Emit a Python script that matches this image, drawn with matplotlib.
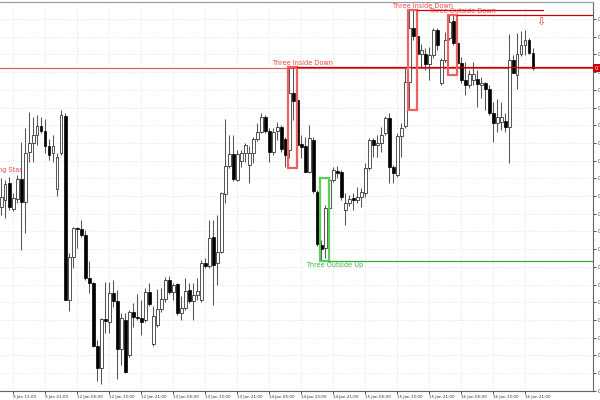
import numpy as np
import matplotlib
matplotlib.use("Agg")
import matplotlib.pyplot as plt
import matplotlib.transforms as mtransforms

# hourly bars, 9 Jan 10:00 .. 16 Jan 23:00
opens = [0.7793, 0.7800, 0.7817, 0.7791, 0.7801, 0.7821, 0.7798, 0.7848, 0.7857, 0.7865,
         0.7874, 0.7869, 0.7854, 0.7847, 0.7811, 0.7847, 0.7884, 0.7700, 0.7743, 0.7772,
         0.7771, 0.7765, 0.7722, 0.7717, 0.7654, 0.7632, 0.7681, 0.7678, 0.7707, 0.7699,
         0.7651, 0.7680, 0.7645, 0.7688, 0.7683, 0.7682, 0.7680, 0.7708, 0.7656, 0.7675,
         0.7691, 0.7701, 0.7720, 0.7708, 0.7716, 0.7687, 0.7692, 0.7710, 0.7699, 0.7705,
         0.7700, 0.7737, 0.7734, 0.7763, 0.7737, 0.7748, 0.7806, 0.7834, 0.7846, 0.7820,
         0.7839, 0.7847, 0.7835, 0.7847, 0.7861, 0.7868, 0.7883, 0.7869, 0.7848, 0.7869,
         0.7873, 0.7861, 0.7850, 0.7907, 0.7900, 0.7856, 0.7854, 0.7828, 0.7860, 0.7808,
         0.7755, 0.7752, 0.7792, 0.7820, 0.7829, 0.7828, 0.7790, 0.7797, 0.7802, 0.7800,
         0.7803, 0.7807, 0.7832, 0.7860, 0.7855, 0.7857, 0.7867, 0.7882, 0.7833, 0.7825,
         0.7864, 0.7874, 0.7918, 0.7972, 0.7964, 0.7946, 0.7946, 0.7936, 0.7945, 0.7970,
         0.7917, 0.7940, 0.7962, 0.7979, 0.7957, 0.7937, 0.7920, 0.7915, 0.7920, 0.7921,
         0.7915, 0.7917, 0.7911, 0.7887, 0.7877, 0.7878, 0.7879, 0.7873, 0.7940, 0.7925,
         0.7946, 0.7955, 0.7960, 0.7947]
highs = [0.7822, 0.7820, 0.7823, 0.7807, 0.7825, 0.7858, 0.7872, 0.7888, 0.7883, 0.7885,
         0.7883, 0.7881, 0.7861, 0.7865, 0.7847, 0.7890, 0.7887, 0.7747, 0.7773, 0.7773,
         0.7780, 0.7770, 0.7739, 0.7718, 0.7660, 0.7682, 0.7718, 0.7718, 0.7720, 0.7710,
         0.7687, 0.7687, 0.7690, 0.7697, 0.7706, 0.7700, 0.7712, 0.7717, 0.7694, 0.7711,
         0.7712, 0.7723, 0.7724, 0.7717, 0.7717, 0.7704, 0.7722, 0.7717, 0.7717, 0.7722,
         0.7740, 0.7742, 0.7780, 0.7780, 0.7785, 0.7808, 0.7881, 0.7865, 0.7865, 0.7850,
         0.7850, 0.7857, 0.7854, 0.7863, 0.7877, 0.7887, 0.7885, 0.7872, 0.7872, 0.7878,
         0.7875, 0.7863, 0.7933, 0.7933, 0.7904, 0.7865, 0.7863, 0.7875, 0.7863, 0.7810,
         0.7760, 0.7795, 0.7822, 0.7833, 0.7834, 0.7830, 0.7807, 0.7805, 0.7807, 0.7813,
         0.7812, 0.7837, 0.7862, 0.7862, 0.7865, 0.7873, 0.7884, 0.7887, 0.7835, 0.7867,
         0.7877, 0.7932, 0.7990, 0.7990, 0.7970, 0.7956, 0.7952, 0.7953, 0.7972, 0.7972,
         0.7942, 0.7968, 0.7985, 0.7985, 0.7960, 0.7943, 0.7938, 0.7930, 0.7938, 0.7930,
         0.7923, 0.7918, 0.7915, 0.7898, 0.7901, 0.7898, 0.7887, 0.7966, 0.7945, 0.7967,
         0.7969, 0.7970, 0.7962, 0.7952]
lows = [0.7785, 0.7782, 0.7790, 0.7789, 0.7797, 0.7750, 0.7767, 0.7838, 0.7838, 0.7855,
        0.7867, 0.7847, 0.7840, 0.7838, 0.7804, 0.7845, 0.7700, 0.7689, 0.7732, 0.7752,
        0.7763, 0.7720, 0.7707, 0.7653, 0.7619, 0.7616, 0.7667, 0.7667, 0.7693, 0.7621,
        0.7635, 0.7627, 0.7643, 0.7673, 0.7680, 0.7665, 0.7678, 0.7694, 0.7654, 0.7673,
        0.7688, 0.7698, 0.7706, 0.7700, 0.7685, 0.7680, 0.7690, 0.7697, 0.7680, 0.7700,
        0.7698, 0.7732, 0.7732, 0.7695, 0.7715, 0.7747, 0.7797, 0.7832, 0.7819, 0.7819,
        0.7833, 0.7838, 0.7817, 0.7837, 0.7859, 0.7867, 0.7867, 0.7838, 0.7845, 0.7860,
        0.7848, 0.7833, 0.7842, 0.7880, 0.7832, 0.7842, 0.7828, 0.7827, 0.7807, 0.7754,
        0.7739, 0.7742, 0.7788, 0.7818, 0.7822, 0.7800, 0.7775, 0.7794, 0.7790, 0.7797,
        0.7793, 0.7803, 0.7830, 0.7843, 0.7843, 0.7848, 0.7865, 0.7817, 0.7817, 0.7823,
        0.7843, 0.7872, 0.7890, 0.7960, 0.7933, 0.7932, 0.7930, 0.7920, 0.7942, 0.7950,
        0.7915, 0.7938, 0.7960, 0.7955, 0.7925, 0.7917, 0.7905, 0.7912, 0.7915, 0.7893,
        0.7902, 0.7890, 0.7885, 0.7858, 0.7868, 0.7870, 0.7868, 0.7837, 0.7927, 0.7911,
        0.7944, 0.7945, 0.7946, 0.7930]
closes = [0.7803, 0.7816, 0.7793, 0.7802, 0.7821, 0.7798, 0.7847, 0.7857, 0.7865, 0.7874,
          0.7869, 0.7854, 0.7845, 0.7854, 0.7843, 0.7885, 0.7700, 0.7743, 0.7772, 0.7771,
          0.7765, 0.7722, 0.7717, 0.7654, 0.7632, 0.7681, 0.7679, 0.7707, 0.7699, 0.7651,
          0.7682, 0.7628, 0.7688, 0.7683, 0.7682, 0.7678, 0.7708, 0.7696, 0.7684, 0.7691,
          0.7701, 0.7720, 0.7708, 0.7715, 0.7687, 0.7692, 0.7709, 0.7699, 0.7705, 0.7709,
          0.7737, 0.7734, 0.7762, 0.7735, 0.7748, 0.7807, 0.7834, 0.7846, 0.7821, 0.7846,
          0.7847, 0.7855, 0.7847, 0.7861, 0.7868, 0.7883, 0.7869, 0.7848, 0.7868, 0.7873,
          0.7851, 0.7845, 0.7907, 0.7899, 0.7855, 0.7853, 0.7828, 0.7862, 0.7809, 0.7756,
          0.7751, 0.7792, 0.7820, 0.7830, 0.7827, 0.7803, 0.7797, 0.7801, 0.7800, 0.7803,
          0.7808, 0.7832, 0.7860, 0.7855, 0.7857, 0.7865, 0.7882, 0.7833, 0.7827, 0.7864,
          0.7872, 0.7918, 0.7972, 0.7964, 0.7946, 0.7950, 0.7936, 0.7945, 0.7970, 0.7955,
          0.7940, 0.7960, 0.7978, 0.7957, 0.7937, 0.7920, 0.7915, 0.7926, 0.7926, 0.7916,
          0.7917, 0.7911, 0.7887, 0.7877, 0.7883, 0.7883, 0.7873, 0.7940, 0.7927, 0.7946,
          0.7955, 0.7960, 0.7947, 0.7932]

time_ticks = [3, 11, 19, 27, 35, 43, 51, 59, 67, 75, 83, 91, 99, 107, 115, 123, 131]
time_labels = ["9 Jan 13:00", "9 Jan 21:00", "12 Jan 05:00", "12 Jan 13:00", "12 Jan 21:00",
               "13 Jan 05:00", "13 Jan 13:00", "13 Jan 21:00", "14 Jan 05:00", "14 Jan 13:00",
               "14 Jan 21:00", "15 Jan 05:00", "15 Jan 13:00", "15 Jan 21:00", "16 Jan 05:00",
               "16 Jan 13:00", "16 Jan 21:00"]

# detected patterns: name, first bar, last bar, bullish?, level line end bar
patterns = [("Three Inside Down", 72, 74, False, None),
            ("Three Outside Up", 80, 82, True, None),
            ("Three Inside Down", 102, 104, False, 135.3),
            ("Three Outside Down", 112, 114, False, None)]

o = np.array(opens); h = np.array(highs); l = np.array(lows); c = np.array(closes)
x = np.arange(len(o))
up = c >= o

fig = plt.figure(figsize=(6, 4), dpi=100)
ax = fig.add_axes([0, 9 / 400, 593 / 600, 389.5 / 400])
ax.set_xlim(-0.325, 147.925)
ax.set_ylim(0.7609, 0.79985)

# grid
ax.set_axisbelow(True)
ax.grid(True, color='#dcdcdc', linestyle=(0, (1, 2)), linewidth=0.6)

# candles
ax.vlines(x, l, h, color='#555555', linewidth=0.75, zorder=2)
body_lo = np.minimum(o, c)
body_h = np.maximum(np.abs(c - o), 0.00006)
ax.bar(x[up], body_h[up], bottom=body_lo[up], width=0.6, facecolor='white',
       edgecolor='#111111', linewidth=0.5, zorder=3)
ax.bar(x[~up], body_h[~up], bottom=body_lo[~up], width=0.6, facecolor='black',
       edgecolor='black', linewidth=0.5, zorder=3)

# bid line
bid = closes[-1]
ax.axhline(bid, color='#e05555', linewidth=0.8, zorder=1)

# pattern boxes, levels and names
for name, i0, i1, bull, line_end in patterns:
    top = h[i0:i1 + 1].max()
    bot = l[i0:i1 + 1].min()
    col = '#5ccc5c' if bull else '#f06060'
    tcol = '#3cb83c' if bull else '#f04848'
    ax.add_patch(plt.Rectangle((i0 - 0.35, bot), (i1 - i0) + 0.25, top - bot, fill=False,
                               edgecolor=col, linewidth=1.6, zorder=4))
    lvl = bot if bull else top
    end = line_end if line_end is not None else 148
    ax.plot([i1 - 0.1, end], [lvl, lvl], color='#33aa33' if bull else '#d00000',
            linewidth=0.9, zorder=4)
    if bull:
        ax.text(i0 + 3.3, bot - 0.0001, name, color=tcol, fontsize=4.7, ha='center', va='top')
    else:
        ax.text(i0 + 3.3, top + 0.0001, name, color=tcol, fontsize=4.7, ha='center', va='bottom')

ax.text(5.2, 0.7830, "Evening Star", color='#f04848', fontsize=4.7, ha='right', va='center')
ax.text(134.9, 0.7978, "\u21e9", color='#f04848', fontsize=8, ha='center', va='center')

# axes
ax.spines['left'].set_visible(False)
ax.spines['top'].set_color('#999999')
ax.spines['right'].set_color('#666666')
ax.spines['bottom'].set_color('#666666')
for s in ['top', 'right', 'bottom']:
    ax.spines[s].set_linewidth(0.8)

yt = np.arange(0.7981, 0.7605, -0.00177)
ax.yaxis.tick_right()
ax.set_yticks(yt)
ax.set_yticklabels([f"{v:.5f}" for v in yt])
ax.tick_params(axis='y', length=2.5, width=0.6, pad=1, labelsize=3.6, colors='#333333')

ax.set_xticks(time_ticks)
ax.set_xticklabels(time_labels)
for lbl in ax.get_xticklabels():
    lbl.set_horizontalalignment('left')
ax.tick_params(axis='x', length=2, width=0.6, pad=0.8, labelsize=3.0, colors='#333333')

trans = mtransforms.blended_transform_factory(ax.transAxes, ax.transData)
ax.text(1.003, bid, f"{bid:.5f}", transform=trans, color='white', fontsize=3.6,
        ha='left', va='center', clip_on=False,
        bbox=dict(boxstyle='square,pad=0.3', facecolor='#cc0000', edgecolor='none'))

fig.savefig("out.png", dpi=100)
